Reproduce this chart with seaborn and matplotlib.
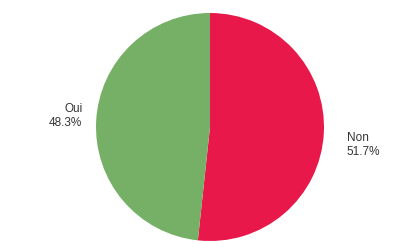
import matplotlib
matplotlib.use("Agg")
import matplotlib.pyplot as plt
import seaborn as sns

# Answers and shares (%)
labels = ["Non", "Oui"]
shares = [51.7, 48.3]
colors = ["#e8194a", "#76b066"]

sns.set_theme(style="white")
plt.rcParams["font.family"] = ["Liberation Sans", "DejaVu Sans"]

fig = plt.figure(figsize=(3.93, 2.43), dpi=100)
# pie centered at (210, 127) px, radius ~114 px
ax = fig.add_axes([96 / 393, 2 / 243, 228 / 393, 228 / 243])

wedges, texts = ax.pie(shares, colors=colors, startangle=90, counterclock=False,
                       labels=[f"{l}\n{s:.1f}%" for l, s in zip(labels, shares)],
                       labeldistance=1.15, textprops={"fontsize": 8.5, "color": "#333333"})
for w in wedges:
    w.set_edgecolor("none")

# nudge labels to match the reference placement
texts[0].set_position((1.20, -0.16))
texts[0].set_ha("left")
texts[0].set_va("center")
texts[1].set_position((-1.12, 0.10))
texts[1].set_ha("right")
texts[1].set_va("center")

ax.set_xlim(-1, 1)
ax.set_ylim(-1, 1)
ax.set_aspect("equal")
ax.axis("off")

fig.savefig("out.png", dpi=100, facecolor="white")
